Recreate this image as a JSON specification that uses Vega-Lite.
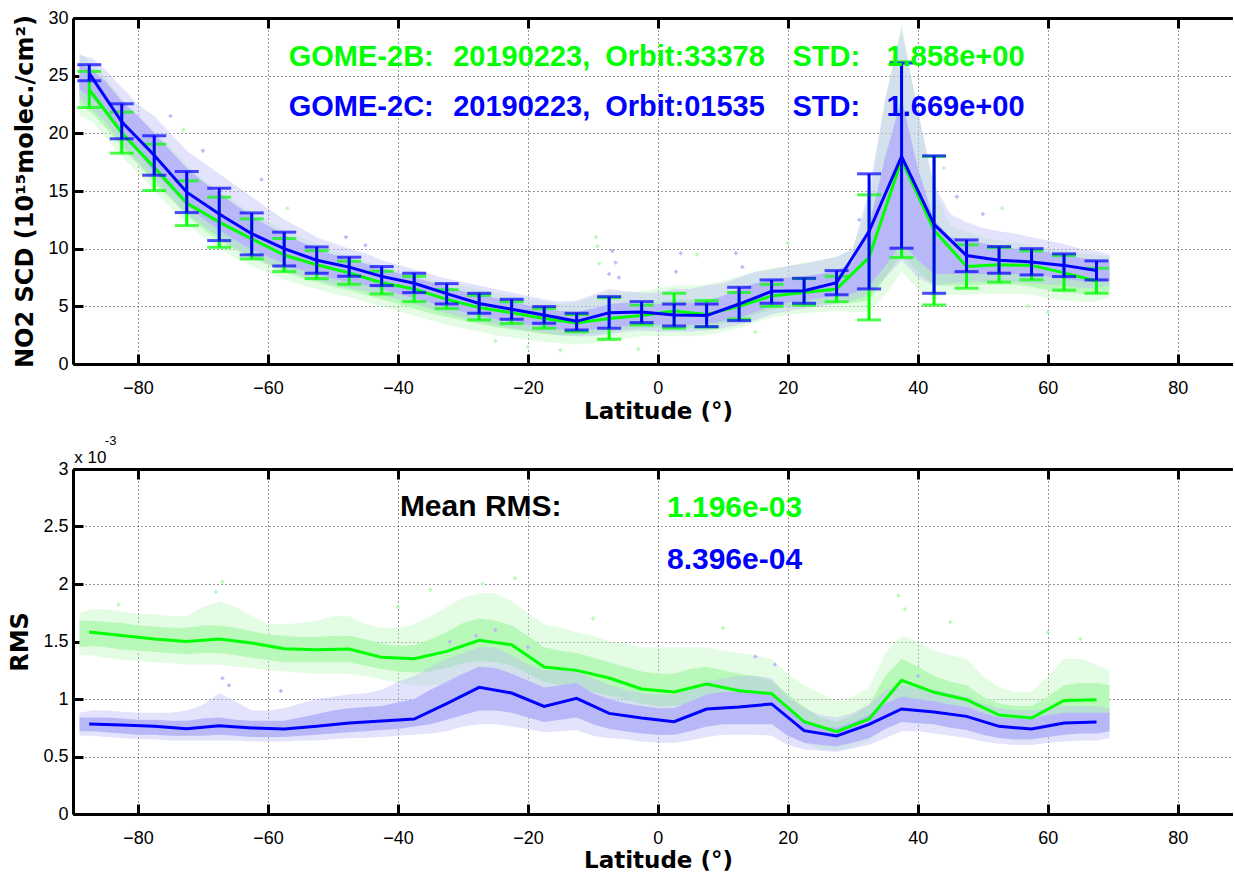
{
  "$schema": "https://vega.github.io/schema/vega-lite/v6.json",
  "background": "white",
  "padding": {"left": 8, "top": 9, "right": 0, "bottom": 0},
  "spacing": 105,
  "bounds": "flush",
  "datasets": {
    "top_cloud": [
      {"sat":"C","lat":-89,"lo":23.8,"hi":26.0,"lo2":23.0,"hi2":26.8},
      {"sat":"C","lat":-87,"lo":23.0,"hi":25.5,"lo2":22.0,"hi2":26.5},
      {"sat":"C","lat":-85,"lo":21.8,"hi":24.5,"lo2":21.0,"hi2":25.5},
      {"sat":"C","lat":-82.5,"lo":19.8,"hi":22.8,"lo2":19.0,"hi2":24.0},
      {"sat":"C","lat":-80,"lo":18.3,"hi":21.5,"lo2":17.5,"hi2":22.5},
      {"sat":"C","lat":-77.5,"lo":16.6,"hi":20.0,"lo2":16.0,"hi2":21.5},
      {"sat":"C","lat":-75,"lo":15.2,"hi":18.5,"lo2":14.5,"hi2":20.0},
      {"sat":"C","lat":-72.5,"lo":13.8,"hi":17.0,"lo2":13.0,"hi2":18.5},
      {"sat":"C","lat":-70,"lo":12.6,"hi":15.8,"lo2":12.0,"hi2":17.5},
      {"sat":"C","lat":-67.5,"lo":11.6,"hi":14.8,"lo2":11.0,"hi2":16.5},
      {"sat":"C","lat":-65,"lo":10.7,"hi":13.8,"lo2":10.0,"hi2":15.5},
      {"sat":"C","lat":-62.5,"lo":9.9,"hi":12.8,"lo2":9.3,"hi2":14.5},
      {"sat":"C","lat":-60,"lo":9.3,"hi":12.0,"lo2":8.7,"hi2":13.5},
      {"sat":"C","lat":-57.5,"lo":8.7,"hi":11.2,"lo2":8.2,"hi2":12.5},
      {"sat":"C","lat":-55,"lo":8.2,"hi":10.6,"lo2":7.7,"hi2":11.8},
      {"sat":"C","lat":-52.5,"lo":7.8,"hi":10.0,"lo2":7.3,"hi2":11.0},
      {"sat":"C","lat":-50,"lo":7.4,"hi":9.5,"lo2":6.9,"hi2":10.5},
      {"sat":"C","lat":-47.5,"lo":7.1,"hi":9.1,"lo2":6.6,"hi2":10.0},
      {"sat":"C","lat":-45,"lo":6.8,"hi":8.7,"lo2":6.3,"hi2":9.6},
      {"sat":"C","lat":-42.5,"lo":6.5,"hi":8.3,"lo2":6.0,"hi2":9.0},
      {"sat":"C","lat":-40,"lo":6.1,"hi":7.9,"lo2":5.6,"hi2":8.6},
      {"sat":"C","lat":-37.5,"lo":5.7,"hi":7.5,"lo2":5.2,"hi2":8.2},
      {"sat":"C","lat":-35,"lo":5.3,"hi":7.1,"lo2":4.8,"hi2":7.8},
      {"sat":"C","lat":-32.5,"lo":4.9,"hi":6.7,"lo2":4.4,"hi2":7.4},
      {"sat":"C","lat":-30,"lo":4.5,"hi":6.3,"lo2":4.0,"hi2":7.1},
      {"sat":"C","lat":-27.5,"lo":4.2,"hi":6.0,"lo2":3.7,"hi2":6.8},
      {"sat":"C","lat":-25,"lo":3.9,"hi":5.7,"lo2":3.4,"hi2":6.5},
      {"sat":"C","lat":-22.5,"lo":3.6,"hi":5.4,"lo2":3.1,"hi2":6.2},
      {"sat":"C","lat":-20,"lo":3.4,"hi":5.1,"lo2":2.9,"hi2":5.9},
      {"sat":"C","lat":-17.5,"lo":3.2,"hi":4.8,"lo2":2.7,"hi2":5.6},
      {"sat":"C","lat":-15,"lo":3.0,"hi":4.6,"lo2":2.5,"hi2":5.4},
      {"sat":"C","lat":-12.5,"lo":2.9,"hi":4.5,"lo2":2.4,"hi2":5.5},
      {"sat":"C","lat":-10,"lo":3.0,"hi":4.8,"lo2":2.4,"hi2":6.0},
      {"sat":"C","lat":-7.5,"lo":3.2,"hi":5.2,"lo2":2.6,"hi2":6.5},
      {"sat":"C","lat":-5,"lo":3.3,"hi":5.3,"lo2":2.8,"hi2":6.3},
      {"sat":"C","lat":-2.5,"lo":3.4,"hi":5.2,"lo2":2.9,"hi2":6.2},
      {"sat":"C","lat":0,"lo":3.4,"hi":5.2,"lo2":2.8,"hi2":6.2},
      {"sat":"C","lat":2.5,"lo":3.4,"hi":5.2,"lo2":2.8,"hi2":6.5},
      {"sat":"C","lat":5,"lo":3.4,"hi":5.3,"lo2":2.8,"hi2":6.5},
      {"sat":"C","lat":7.5,"lo":3.5,"hi":5.4,"lo2":2.9,"hi2":6.8},
      {"sat":"C","lat":10,"lo":3.7,"hi":5.9,"lo2":3.1,"hi2":7.0},
      {"sat":"C","lat":12.5,"lo":4.0,"hi":6.5,"lo2":3.4,"hi2":7.5},
      {"sat":"C","lat":15,"lo":4.5,"hi":7.0,"lo2":3.8,"hi2":8.0},
      {"sat":"C","lat":17.5,"lo":5.0,"hi":7.3,"lo2":4.3,"hi2":8.2},
      {"sat":"C","lat":20,"lo":5.3,"hi":7.5,"lo2":4.6,"hi2":8.5},
      {"sat":"C","lat":22.5,"lo":5.5,"hi":7.6,"lo2":4.8,"hi2":8.7},
      {"sat":"C","lat":25,"lo":5.7,"hi":7.8,"lo2":5.0,"hi2":9.0},
      {"sat":"C","lat":27.5,"lo":5.9,"hi":8.1,"lo2":5.2,"hi2":9.3},
      {"sat":"C","lat":30,"lo":6.1,"hi":8.8,"lo2":5.5,"hi2":10.0},
      {"sat":"C","lat":32.5,"lo":6.8,"hi":12.0,"lo2":6.0,"hi2":15.0},
      {"sat":"C","lat":35,"lo":8.5,"hi":18.0,"lo2":7.5,"hi2":23.0},
      {"sat":"C","lat":37.5,"lo":10.5,"hi":23.0,"lo2":9.0,"hi2":29.0},
      {"sat":"C","lat":40,"lo":9.0,"hi":17.0,"lo2":7.5,"hi2":22.0},
      {"sat":"C","lat":42.5,"lo":7.8,"hi":12.5,"lo2":6.8,"hi2":15.5},
      {"sat":"C","lat":45,"lo":7.8,"hi":11.0,"lo2":7.0,"hi2":13.0},
      {"sat":"C","lat":47.5,"lo":7.8,"hi":10.8,"lo2":7.1,"hi2":12.3},
      {"sat":"C","lat":50,"lo":7.8,"hi":10.5,"lo2":7.1,"hi2":11.8},
      {"sat":"C","lat":52.5,"lo":7.8,"hi":10.2,"lo2":7.1,"hi2":11.5},
      {"sat":"C","lat":55,"lo":7.8,"hi":10.0,"lo2":7.1,"hi2":11.3},
      {"sat":"C","lat":57.5,"lo":7.7,"hi":9.9,"lo2":7.0,"hi2":11.0},
      {"sat":"C","lat":60,"lo":7.6,"hi":9.7,"lo2":6.9,"hi2":10.7},
      {"sat":"C","lat":62.5,"lo":7.4,"hi":9.5,"lo2":6.8,"hi2":10.4},
      {"sat":"C","lat":65,"lo":7.2,"hi":9.2,"lo2":6.6,"hi2":10.0},
      {"sat":"C","lat":67.5,"lo":7.1,"hi":9.0,"lo2":6.6,"hi2":9.8},
      {"sat":"C","lat":69.5,"lo":7.2,"hi":8.8,"lo2":6.8,"hi2":9.5},
      {"sat":"B","lat":-89,"lo":22.5,"hi":25.5,"lo2":21.5,"hi2":27.0},
      {"sat":"B","lat":-87,"lo":21.7,"hi":24.8,"lo2":21.0,"hi2":26.0},
      {"sat":"B","lat":-85,"lo":20.5,"hi":23.5,"lo2":19.7,"hi2":24.8},
      {"sat":"B","lat":-82.5,"lo":18.8,"hi":21.8,"lo2":18.0,"hi2":23.0},
      {"sat":"B","lat":-80,"lo":17.3,"hi":20.3,"lo2":16.6,"hi2":21.5},
      {"sat":"B","lat":-77.5,"lo":15.7,"hi":18.8,"lo2":15.0,"hi2":20.2},
      {"sat":"B","lat":-75,"lo":14.3,"hi":17.3,"lo2":13.6,"hi2":18.8},
      {"sat":"B","lat":-72.5,"lo":12.9,"hi":15.8,"lo2":12.2,"hi2":17.3},
      {"sat":"B","lat":-70,"lo":11.7,"hi":14.5,"lo2":11.0,"hi2":16.0},
      {"sat":"B","lat":-67.5,"lo":10.7,"hi":13.5,"lo2":10.0,"hi2":15.0},
      {"sat":"B","lat":-65,"lo":9.9,"hi":12.6,"lo2":9.2,"hi2":14.0},
      {"sat":"B","lat":-62.5,"lo":9.2,"hi":11.8,"lo2":8.5,"hi2":13.2},
      {"sat":"B","lat":-60,"lo":8.6,"hi":11.1,"lo2":7.9,"hi2":12.4},
      {"sat":"B","lat":-57.5,"lo":8.0,"hi":10.4,"lo2":7.3,"hi2":11.6},
      {"sat":"B","lat":-55,"lo":7.5,"hi":9.8,"lo2":6.9,"hi2":11.0},
      {"sat":"B","lat":-52.5,"lo":7.1,"hi":9.3,"lo2":6.5,"hi2":10.4},
      {"sat":"B","lat":-50,"lo":6.7,"hi":8.8,"lo2":6.1,"hi2":9.8},
      {"sat":"B","lat":-47.5,"lo":6.4,"hi":8.4,"lo2":5.8,"hi2":9.3},
      {"sat":"B","lat":-45,"lo":6.0,"hi":8.0,"lo2":5.4,"hi2":8.9},
      {"sat":"B","lat":-42.5,"lo":5.6,"hi":7.6,"lo2":5.0,"hi2":8.5},
      {"sat":"B","lat":-40,"lo":5.2,"hi":7.2,"lo2":4.6,"hi2":8.0},
      {"sat":"B","lat":-37.5,"lo":4.8,"hi":6.8,"lo2":4.2,"hi2":7.6},
      {"sat":"B","lat":-35,"lo":4.4,"hi":6.4,"lo2":3.8,"hi2":7.3},
      {"sat":"B","lat":-32.5,"lo":4.1,"hi":6.0,"lo2":3.4,"hi2":7.0},
      {"sat":"B","lat":-30,"lo":3.8,"hi":5.7,"lo2":3.1,"hi2":6.8},
      {"sat":"B","lat":-27.5,"lo":3.5,"hi":5.4,"lo2":2.8,"hi2":6.5},
      {"sat":"B","lat":-25,"lo":3.2,"hi":5.1,"lo2":2.5,"hi2":6.2},
      {"sat":"B","lat":-22.5,"lo":3.0,"hi":4.8,"lo2":2.3,"hi2":5.9},
      {"sat":"B","lat":-20,"lo":2.8,"hi":4.6,"lo2":2.1,"hi2":5.7},
      {"sat":"B","lat":-17.5,"lo":2.6,"hi":4.4,"lo2":1.9,"hi2":5.4},
      {"sat":"B","lat":-15,"lo":2.5,"hi":4.2,"lo2":1.8,"hi2":5.2},
      {"sat":"B","lat":-12.5,"lo":2.5,"hi":4.2,"lo2":1.7,"hi2":5.3},
      {"sat":"B","lat":-10,"lo":2.6,"hi":4.5,"lo2":1.8,"hi2":5.8},
      {"sat":"B","lat":-7.5,"lo":2.8,"hi":4.9,"lo2":2.0,"hi2":6.2},
      {"sat":"B","lat":-5,"lo":3.0,"hi":5.1,"lo2":2.2,"hi2":6.2},
      {"sat":"B","lat":-2.5,"lo":3.1,"hi":5.2,"lo2":2.4,"hi2":6.3},
      {"sat":"B","lat":0,"lo":3.1,"hi":5.4,"lo2":2.4,"hi2":6.6},
      {"sat":"B","lat":2.5,"lo":3.1,"hi":5.6,"lo2":2.4,"hi2":6.8},
      {"sat":"B","lat":5,"lo":3.1,"hi":5.6,"lo2":2.4,"hi2":6.8},
      {"sat":"B","lat":7.5,"lo":3.2,"hi":5.6,"lo2":2.5,"hi2":6.9},
      {"sat":"B","lat":10,"lo":3.5,"hi":5.9,"lo2":2.8,"hi2":7.2},
      {"sat":"B","lat":12.5,"lo":3.9,"hi":6.4,"lo2":3.1,"hi2":7.6},
      {"sat":"B","lat":15,"lo":4.3,"hi":6.9,"lo2":3.6,"hi2":8.0},
      {"sat":"B","lat":17.5,"lo":4.7,"hi":7.2,"lo2":4.0,"hi2":8.3},
      {"sat":"B","lat":20,"lo":5.0,"hi":7.4,"lo2":4.3,"hi2":8.5},
      {"sat":"B","lat":22.5,"lo":5.1,"hi":7.5,"lo2":4.4,"hi2":8.8},
      {"sat":"B","lat":25,"lo":5.2,"hi":7.7,"lo2":4.5,"hi2":9.0},
      {"sat":"B","lat":27.5,"lo":5.3,"hi":7.9,"lo2":4.6,"hi2":9.3},
      {"sat":"B","lat":30,"lo":5.3,"hi":8.5,"lo2":4.5,"hi2":10.0},
      {"sat":"B","lat":32.5,"lo":5.5,"hi":11.0,"lo2":4.5,"hi2":14.0},
      {"sat":"B","lat":35,"lo":7.5,"hi":17.0,"lo2":6.0,"hi2":23.0},
      {"sat":"B","lat":37.5,"lo":9.5,"hi":23.0,"lo2":8.0,"hi2":29.5},
      {"sat":"B","lat":40,"lo":8.0,"hi":16.5,"lo2":6.5,"hi2":22.0},
      {"sat":"B","lat":42.5,"lo":6.8,"hi":11.5,"lo2":5.8,"hi2":15.0},
      {"sat":"B","lat":45,"lo":6.8,"hi":10.0,"lo2":6.0,"hi2":12.0},
      {"sat":"B","lat":47.5,"lo":6.8,"hi":9.8,"lo2":6.0,"hi2":11.5},
      {"sat":"B","lat":50,"lo":6.9,"hi":9.6,"lo2":6.1,"hi2":11.0},
      {"sat":"B","lat":52.5,"lo":6.9,"hi":9.4,"lo2":6.1,"hi2":10.7},
      {"sat":"B","lat":55,"lo":6.9,"hi":9.3,"lo2":6.1,"hi2":10.5},
      {"sat":"B","lat":57.5,"lo":6.7,"hi":9.1,"lo2":6.0,"hi2":10.3},
      {"sat":"B","lat":60,"lo":6.4,"hi":8.9,"lo2":5.7,"hi2":10.0},
      {"sat":"B","lat":62.5,"lo":6.2,"hi":8.7,"lo2":5.5,"hi2":9.8},
      {"sat":"B","lat":65,"lo":6.1,"hi":8.5,"lo2":5.4,"hi2":9.6},
      {"sat":"B","lat":67.5,"lo":6.1,"hi":8.4,"lo2":5.4,"hi2":9.5},
      {"sat":"B","lat":69.5,"lo":6.3,"hi":8.3,"lo2":5.8,"hi2":9.3}
    ],
    "top_out": [
      {"sat":"C","lat":-7,"v":9.8},{"sat":"C","lat":-6.5,"v":8.8},{"sat":"C","lat":-6,"v":7.5},{"sat":"C","lat":-7.5,"v":7.8},
      {"sat":"C","lat":3.5,"v":9.6},{"sat":"C","lat":2.8,"v":8.0},{"sat":"C","lat":12,"v":9.6},{"sat":"C","lat":13,"v":8.4},
      {"sat":"C","lat":-61,"v":16},{"sat":"C","lat":-75,"v":21.5},{"sat":"C","lat":-70,"v":18.5},{"sat":"C","lat":-48,"v":11},
      {"sat":"C","lat":46,"v":14.5},{"sat":"C","lat":50,"v":13.0},{"sat":"C","lat":-45,"v":10.3},{"sat":"C","lat":31,"v":12.5},
      {"sat":"B","lat":-9.5,"v":11.0},{"sat":"B","lat":-9.3,"v":10.2},{"sat":"B","lat":-9,"v":8.7},{"sat":"B","lat":6,"v":9.5},
      {"sat":"B","lat":20,"v":10.5},{"sat":"B","lat":-73,"v":20.3},{"sat":"B","lat":-57,"v":13.5},{"sat":"B","lat":-25,"v":2.0},
      {"sat":"B","lat":-20,"v":1.5},{"sat":"B","lat":-15,"v":1.2},{"sat":"B","lat":-3,"v":1.3},{"sat":"B","lat":15,"v":2.8},
      {"sat":"B","lat":57,"v":5.0},{"sat":"B","lat":60,"v":4.5},{"sat":"B","lat":44,"v":17},{"sat":"B","lat":53,"v":13.5}
    ],
    "top_mean": [
      {"sat":"B","lat":-87.5,"mean":23.8,"lo":22.24,"hi":25.37},
      {"sat":"B","lat":-82.5,"mean":20.05,"lo":18.28,"hi":21.84},
      {"sat":"B","lat":-77.5,"mean":17.05,"lo":15.04,"hi":19.06},
      {"sat":"B","lat":-72.5,"mean":13.95,"lo":12.0,"hi":15.88},
      {"sat":"B","lat":-67.5,"mean":12.3,"lo":10.12,"hi":14.46},
      {"sat":"B","lat":-62.5,"mean":10.85,"lo":9.11,"hi":12.58},
      {"sat":"B","lat":-57.5,"mean":9.45,"lo":8.01,"hi":10.88},
      {"sat":"B","lat":-52.5,"mean":8.6,"lo":7.4,"hi":9.83},
      {"sat":"B","lat":-47.5,"mean":7.9,"lo":6.91,"hi":8.91},
      {"sat":"B","lat":-42.5,"mean":7.05,"lo":6.07,"hi":8.04},
      {"sat":"B","lat":-37.5,"mean":6.5,"lo":5.41,"hi":7.6},
      {"sat":"B","lat":-32.5,"mean":5.6,"lo":4.8,"hi":6.45},
      {"sat":"B","lat":-27.5,"mean":4.9,"lo":3.82,"hi":5.95},
      {"sat":"B","lat":-22.5,"mean":4.45,"lo":3.5,"hi":5.4},
      {"sat":"B","lat":-17.5,"mean":3.95,"lo":3.1,"hi":4.8},
      {"sat":"B","lat":-12.5,"mean":3.55,"lo":2.8,"hi":4.3},
      {"sat":"B","lat":-7.5,"mean":3.95,"lo":2.14,"hi":5.75},
      {"sat":"B","lat":-2.5,"mean":4.2,"lo":3.4,"hi":5.1},
      {"sat":"B","lat":2.5,"mean":4.6,"lo":3.1,"hi":6.13},
      {"sat":"B","lat":7.5,"mean":4.3,"lo":3.2,"hi":5.5},
      {"sat":"B","lat":12.5,"mean":5.0,"lo":3.9,"hi":6.2},
      {"sat":"B","lat":17.5,"mean":5.9,"lo":5.0,"hi":6.9},
      {"sat":"B","lat":22.5,"mean":6.2,"lo":5.1,"hi":7.4},
      {"sat":"B","lat":27.5,"mean":6.5,"lo":5.4,"hi":7.6},
      {"sat":"B","lat":32.5,"mean":9.25,"lo":3.82,"hi":14.67},
      {"sat":"B","lat":37.5,"mean":17.7,"lo":9.23,"hi":26.2},
      {"sat":"B","lat":42.5,"mean":11.6,"lo":5.12,"hi":18.0},
      {"sat":"B","lat":47.5,"mean":8.45,"lo":6.57,"hi":10.33},
      {"sat":"B","lat":52.5,"mean":8.6,"lo":7.1,"hi":10.1},
      {"sat":"B","lat":57.5,"mean":8.55,"lo":7.3,"hi":9.8},
      {"sat":"B","lat":62.5,"mean":7.9,"lo":6.4,"hi":9.4},
      {"sat":"B","lat":67.5,"mean":7.2,"lo":6.13,"hi":8.3},
      {"sat":"C","lat":-87.5,"mean":25.2,"lo":24.56,"hi":25.95},
      {"sat":"C","lat":-82.5,"mean":21.0,"lo":19.53,"hi":22.56},
      {"sat":"C","lat":-77.5,"mean":18.1,"lo":16.37,"hi":19.79},
      {"sat":"C","lat":-72.5,"mean":14.9,"lo":13.13,"hi":16.69},
      {"sat":"C","lat":-67.5,"mean":13.0,"lo":10.7,"hi":15.24},
      {"sat":"C","lat":-62.5,"mean":11.3,"lo":9.46,"hi":13.1},
      {"sat":"C","lat":-57.5,"mean":10.0,"lo":8.5,"hi":11.43},
      {"sat":"C","lat":-52.5,"mean":9.0,"lo":7.87,"hi":10.15},
      {"sat":"C","lat":-47.5,"mean":8.4,"lo":7.61,"hi":9.26},
      {"sat":"C","lat":-42.5,"mean":7.6,"lo":6.8,"hi":8.45},
      {"sat":"C","lat":-37.5,"mean":7.0,"lo":6.19,"hi":7.87},
      {"sat":"C","lat":-32.5,"mean":6.1,"lo":5.21,"hi":6.97},
      {"sat":"C","lat":-27.5,"mean":5.25,"lo":4.4,"hi":6.13},
      {"sat":"C","lat":-22.5,"mean":4.75,"lo":3.88,"hi":5.61},
      {"sat":"C","lat":-17.5,"mean":4.25,"lo":3.53,"hi":4.98},
      {"sat":"C","lat":-12.5,"mean":3.7,"lo":2.95,"hi":4.4},
      {"sat":"C","lat":-7.5,"mean":4.45,"lo":3.1,"hi":5.84},
      {"sat":"C","lat":-2.5,"mean":4.5,"lo":3.59,"hi":5.41},
      {"sat":"C","lat":2.5,"mean":4.25,"lo":3.3,"hi":5.2},
      {"sat":"C","lat":7.5,"mean":4.2,"lo":3.24,"hi":5.2},
      {"sat":"C","lat":12.5,"mean":5.2,"lo":3.76,"hi":6.65},
      {"sat":"C","lat":17.5,"mean":6.3,"lo":5.27,"hi":7.29},
      {"sat":"C","lat":22.5,"mean":6.35,"lo":5.27,"hi":7.43},
      {"sat":"C","lat":27.5,"mean":7.05,"lo":6.0,"hi":8.1},
      {"sat":"C","lat":32.5,"mean":11.5,"lo":6.51,"hi":16.49},
      {"sat":"C","lat":37.5,"mean":18.0,"lo":10.04,"hi":26.09},
      {"sat":"C","lat":42.5,"mean":12.1,"lo":6.13,"hi":18.05},
      {"sat":"C","lat":47.5,"mean":9.4,"lo":8.01,"hi":10.76},
      {"sat":"C","lat":52.5,"mean":9.0,"lo":7.87,"hi":10.18},
      {"sat":"C","lat":57.5,"mean":8.85,"lo":7.72,"hi":10.0},
      {"sat":"C","lat":62.5,"mean":8.55,"lo":7.58,"hi":9.55},
      {"sat":"C","lat":67.5,"mean":8.1,"lo":7.29,"hi":8.94}
    ],
    "top_text": [
      {"sat":"B","lat":-56.8,"v":26.58,"label":"GOME-2B:"},
      {"sat":"B","lat":-31.5,"v":26.58,"label":"20190223,"},
      {"sat":"B","lat":-8.1,"v":26.58,"label":"Orbit:33378"},
      {"sat":"B","lat":20.7,"v":26.58,"label":"STD:"},
      {"sat":"B","lat":35.2,"v":26.58,"label":"1.858e+00"},
      {"sat":"C","lat":-56.8,"v":22.25,"label":"GOME-2C:"},
      {"sat":"C","lat":-31.5,"v":22.25,"label":"20190223,"},
      {"sat":"C","lat":-8.1,"v":22.25,"label":"Orbit:01535"},
      {"sat":"C","lat":20.7,"v":22.25,"label":"STD:"},
      {"sat":"C","lat":35.2,"v":22.25,"label":"1.669e+00"}
    ],
    "bot_cloud": [
      {"sat":"B","lat":-89,"lo":1.45,"hi":1.68,"lo2":1.38,"hi2":1.75},
      {"sat":"B","lat":-87,"lo":1.46,"hi":1.68,"lo2":1.38,"hi2":1.78},
      {"sat":"B","lat":-85,"lo":1.45,"hi":1.67,"lo2":1.36,"hi2":1.78},
      {"sat":"B","lat":-82.5,"lo":1.43,"hi":1.66,"lo2":1.34,"hi2":1.76},
      {"sat":"B","lat":-80,"lo":1.42,"hi":1.64,"lo2":1.33,"hi2":1.74},
      {"sat":"B","lat":-77.5,"lo":1.41,"hi":1.63,"lo2":1.32,"hi2":1.74},
      {"sat":"B","lat":-75,"lo":1.40,"hi":1.62,"lo2":1.31,"hi2":1.72},
      {"sat":"B","lat":-72.5,"lo":1.39,"hi":1.62,"lo2":1.30,"hi2":1.72},
      {"sat":"B","lat":-70,"lo":1.40,"hi":1.64,"lo2":1.30,"hi2":1.80},
      {"sat":"B","lat":-67.5,"lo":1.40,"hi":1.64,"lo2":1.30,"hi2":1.85},
      {"sat":"B","lat":-65,"lo":1.38,"hi":1.62,"lo2":1.28,"hi2":1.80},
      {"sat":"B","lat":-62.5,"lo":1.36,"hi":1.59,"lo2":1.27,"hi2":1.72},
      {"sat":"B","lat":-60,"lo":1.34,"hi":1.56,"lo2":1.25,"hi2":1.65},
      {"sat":"B","lat":-57.5,"lo":1.32,"hi":1.55,"lo2":1.24,"hi2":1.65},
      {"sat":"B","lat":-55,"lo":1.32,"hi":1.54,"lo2":1.23,"hi2":1.66},
      {"sat":"B","lat":-52.5,"lo":1.32,"hi":1.54,"lo2":1.22,"hi2":1.68},
      {"sat":"B","lat":-50,"lo":1.32,"hi":1.55,"lo2":1.22,"hi2":1.72},
      {"sat":"B","lat":-47.5,"lo":1.32,"hi":1.55,"lo2":1.22,"hi2":1.72},
      {"sat":"B","lat":-45,"lo":1.29,"hi":1.52,"lo2":1.20,"hi2":1.65},
      {"sat":"B","lat":-42.5,"lo":1.26,"hi":1.48,"lo2":1.17,"hi2":1.62},
      {"sat":"B","lat":-40,"lo":1.24,"hi":1.46,"lo2":1.14,"hi2":1.62},
      {"sat":"B","lat":-37.5,"lo":1.23,"hi":1.47,"lo2":1.12,"hi2":1.65},
      {"sat":"B","lat":-35,"lo":1.24,"hi":1.52,"lo2":1.12,"hi2":1.72},
      {"sat":"B","lat":-32.5,"lo":1.27,"hi":1.58,"lo2":1.14,"hi2":1.80},
      {"sat":"B","lat":-30,"lo":1.31,"hi":1.66,"lo2":1.18,"hi2":1.88},
      {"sat":"B","lat":-27.5,"lo":1.33,"hi":1.70,"lo2":1.20,"hi2":1.92},
      {"sat":"B","lat":-25,"lo":1.32,"hi":1.68,"lo2":1.20,"hi2":1.92},
      {"sat":"B","lat":-22.5,"lo":1.29,"hi":1.64,"lo2":1.16,"hi2":1.85},
      {"sat":"B","lat":-20,"lo":1.22,"hi":1.55,"lo2":1.10,"hi2":1.75},
      {"sat":"B","lat":-17.5,"lo":1.15,"hi":1.45,"lo2":1.04,"hi2":1.65},
      {"sat":"B","lat":-15,"lo":1.12,"hi":1.42,"lo2":1.00,"hi2":1.62},
      {"sat":"B","lat":-12.5,"lo":1.10,"hi":1.40,"lo2":0.98,"hi2":1.58},
      {"sat":"B","lat":-10,"lo":1.06,"hi":1.36,"lo2":0.95,"hi2":1.55},
      {"sat":"B","lat":-7.5,"lo":1.03,"hi":1.32,"lo2":0.92,"hi2":1.50},
      {"sat":"B","lat":-5,"lo":1.00,"hi":1.28,"lo2":0.90,"hi2":1.48},
      {"sat":"B","lat":-2.5,"lo":0.96,"hi":1.24,"lo2":0.86,"hi2":1.45},
      {"sat":"B","lat":0,"lo":0.94,"hi":1.22,"lo2":0.84,"hi2":1.45},
      {"sat":"B","lat":2.5,"lo":0.94,"hi":1.22,"lo2":0.84,"hi2":1.45},
      {"sat":"B","lat":5,"lo":0.96,"hi":1.26,"lo2":0.86,"hi2":1.45},
      {"sat":"B","lat":7.5,"lo":0.98,"hi":1.28,"lo2":0.88,"hi2":1.45},
      {"sat":"B","lat":10,"lo":0.97,"hi":1.25,"lo2":0.88,"hi2":1.42},
      {"sat":"B","lat":12.5,"lo":0.95,"hi":1.22,"lo2":0.86,"hi2":1.40},
      {"sat":"B","lat":15,"lo":0.93,"hi":1.20,"lo2":0.84,"hi2":1.38},
      {"sat":"B","lat":17.5,"lo":0.90,"hi":1.16,"lo2":0.80,"hi2":1.35},
      {"sat":"B","lat":20,"lo":0.80,"hi":1.04,"lo2":0.70,"hi2":1.22},
      {"sat":"B","lat":22.5,"lo":0.70,"hi":0.93,"lo2":0.62,"hi2":1.12},
      {"sat":"B","lat":25,"lo":0.64,"hi":0.84,"lo2":0.56,"hi2":1.05},
      {"sat":"B","lat":27.5,"lo":0.62,"hi":0.80,"lo2":0.55,"hi2":0.98},
      {"sat":"B","lat":30,"lo":0.66,"hi":0.86,"lo2":0.58,"hi2":1.02},
      {"sat":"B","lat":32.5,"lo":0.72,"hi":0.95,"lo2":0.64,"hi2":1.10},
      {"sat":"B","lat":35,"lo":0.85,"hi":1.20,"lo2":0.75,"hi2":1.40},
      {"sat":"B","lat":37.5,"lo":0.95,"hi":1.35,"lo2":0.82,"hi2":1.55},
      {"sat":"B","lat":40,"lo":0.92,"hi":1.28,"lo2":0.80,"hi2":1.50},
      {"sat":"B","lat":42.5,"lo":0.90,"hi":1.20,"lo2":0.78,"hi2":1.42},
      {"sat":"B","lat":45,"lo":0.86,"hi":1.15,"lo2":0.76,"hi2":1.38},
      {"sat":"B","lat":47.5,"lo":0.84,"hi":1.12,"lo2":0.74,"hi2":1.35},
      {"sat":"B","lat":50,"lo":0.78,"hi":1.02,"lo2":0.70,"hi2":1.20},
      {"sat":"B","lat":52.5,"lo":0.74,"hi":0.96,"lo2":0.66,"hi2":1.10},
      {"sat":"B","lat":55,"lo":0.72,"hi":0.94,"lo2":0.64,"hi2":1.06},
      {"sat":"B","lat":57.5,"lo":0.72,"hi":0.94,"lo2":0.64,"hi2":1.06},
      {"sat":"B","lat":60,"lo":0.76,"hi":1.02,"lo2":0.68,"hi2":1.20},
      {"sat":"B","lat":62.5,"lo":0.82,"hi":1.12,"lo2":0.72,"hi2":1.35},
      {"sat":"B","lat":65,"lo":0.84,"hi":1.14,"lo2":0.74,"hi2":1.35},
      {"sat":"B","lat":67.5,"lo":0.84,"hi":1.14,"lo2":0.74,"hi2":1.30},
      {"sat":"B","lat":69.5,"lo":0.86,"hi":1.12,"lo2":0.78,"hi2":1.25},
      {"sat":"C","lat":-89,"lo":0.72,"hi":0.84,"lo2":0.68,"hi2":0.88},
      {"sat":"C","lat":-87,"lo":0.72,"hi":0.84,"lo2":0.68,"hi2":0.90},
      {"sat":"C","lat":-85,"lo":0.71,"hi":0.84,"lo2":0.67,"hi2":0.90},
      {"sat":"C","lat":-82.5,"lo":0.70,"hi":0.83,"lo2":0.66,"hi2":0.89},
      {"sat":"C","lat":-80,"lo":0.69,"hi":0.82,"lo2":0.65,"hi2":0.88},
      {"sat":"C","lat":-77.5,"lo":0.69,"hi":0.82,"lo2":0.65,"hi2":0.88},
      {"sat":"C","lat":-75,"lo":0.68,"hi":0.81,"lo2":0.64,"hi2":0.88},
      {"sat":"C","lat":-72.5,"lo":0.68,"hi":0.81,"lo2":0.64,"hi2":0.90},
      {"sat":"C","lat":-70,"lo":0.68,"hi":0.83,"lo2":0.64,"hi2":0.95},
      {"sat":"C","lat":-67.5,"lo":0.69,"hi":0.84,"lo2":0.64,"hi2":1.05},
      {"sat":"C","lat":-65,"lo":0.68,"hi":0.82,"lo2":0.64,"hi2":0.98},
      {"sat":"C","lat":-62.5,"lo":0.67,"hi":0.81,"lo2":0.63,"hi2":0.90},
      {"sat":"C","lat":-60,"lo":0.67,"hi":0.81,"lo2":0.63,"hi2":0.90},
      {"sat":"C","lat":-57.5,"lo":0.67,"hi":0.81,"lo2":0.63,"hi2":0.92},
      {"sat":"C","lat":-55,"lo":0.68,"hi":0.84,"lo2":0.64,"hi2":0.96},
      {"sat":"C","lat":-52.5,"lo":0.69,"hi":0.87,"lo2":0.64,"hi2":1.00},
      {"sat":"C","lat":-50,"lo":0.70,"hi":0.90,"lo2":0.65,"hi2":1.02},
      {"sat":"C","lat":-47.5,"lo":0.71,"hi":0.92,"lo2":0.66,"hi2":1.04},
      {"sat":"C","lat":-45,"lo":0.72,"hi":0.93,"lo2":0.66,"hi2":1.05},
      {"sat":"C","lat":-42.5,"lo":0.73,"hi":0.94,"lo2":0.67,"hi2":1.08},
      {"sat":"C","lat":-40,"lo":0.74,"hi":0.97,"lo2":0.68,"hi2":1.15},
      {"sat":"C","lat":-37.5,"lo":0.76,"hi":1.00,"lo2":0.69,"hi2":1.20},
      {"sat":"C","lat":-35,"lo":0.78,"hi":1.08,"lo2":0.70,"hi2":1.28},
      {"sat":"C","lat":-32.5,"lo":0.82,"hi":1.15,"lo2":0.72,"hi2":1.35},
      {"sat":"C","lat":-30,"lo":0.86,"hi":1.22,"lo2":0.76,"hi2":1.40},
      {"sat":"C","lat":-27.5,"lo":0.90,"hi":1.28,"lo2":0.78,"hi2":1.45},
      {"sat":"C","lat":-25,"lo":0.90,"hi":1.27,"lo2":0.78,"hi2":1.45},
      {"sat":"C","lat":-22.5,"lo":0.88,"hi":1.22,"lo2":0.76,"hi2":1.38},
      {"sat":"C","lat":-20,"lo":0.84,"hi":1.16,"lo2":0.74,"hi2":1.30},
      {"sat":"C","lat":-17.5,"lo":0.80,"hi":1.10,"lo2":0.71,"hi2":1.25},
      {"sat":"C","lat":-15,"lo":0.82,"hi":1.12,"lo2":0.72,"hi2":1.25},
      {"sat":"C","lat":-12.5,"lo":0.84,"hi":1.14,"lo2":0.73,"hi2":1.25},
      {"sat":"C","lat":-10,"lo":0.78,"hi":1.05,"lo2":0.68,"hi2":1.18},
      {"sat":"C","lat":-7.5,"lo":0.74,"hi":1.00,"lo2":0.66,"hi2":1.12},
      {"sat":"C","lat":-5,"lo":0.72,"hi":0.96,"lo2":0.65,"hi2":1.08},
      {"sat":"C","lat":-2.5,"lo":0.70,"hi":0.94,"lo2":0.63,"hi2":1.05},
      {"sat":"C","lat":0,"lo":0.69,"hi":0.92,"lo2":0.62,"hi2":1.04},
      {"sat":"C","lat":2.5,"lo":0.69,"hi":0.92,"lo2":0.62,"hi2":1.04},
      {"sat":"C","lat":5,"lo":0.72,"hi":0.98,"lo2":0.64,"hi2":1.10},
      {"sat":"C","lat":7.5,"lo":0.76,"hi":1.04,"lo2":0.67,"hi2":1.15},
      {"sat":"C","lat":10,"lo":0.78,"hi":1.06,"lo2":0.69,"hi2":1.18},
      {"sat":"C","lat":12.5,"lo":0.78,"hi":1.06,"lo2":0.69,"hi2":1.20},
      {"sat":"C","lat":15,"lo":0.78,"hi":1.06,"lo2":0.69,"hi2":1.20},
      {"sat":"C","lat":17.5,"lo":0.78,"hi":1.06,"lo2":0.68,"hi2":1.18},
      {"sat":"C","lat":20,"lo":0.68,"hi":0.90,"lo2":0.60,"hi2":1.02},
      {"sat":"C","lat":22.5,"lo":0.62,"hi":0.82,"lo2":0.56,"hi2":0.92},
      {"sat":"C","lat":25,"lo":0.60,"hi":0.76,"lo2":0.55,"hi2":0.86},
      {"sat":"C","lat":27.5,"lo":0.59,"hi":0.75,"lo2":0.54,"hi2":0.84},
      {"sat":"C","lat":30,"lo":0.62,"hi":0.80,"lo2":0.57,"hi2":0.88},
      {"sat":"C","lat":32.5,"lo":0.66,"hi":0.86,"lo2":0.60,"hi2":0.95},
      {"sat":"C","lat":35,"lo":0.74,"hi":0.96,"lo2":0.66,"hi2":1.08},
      {"sat":"C","lat":37.5,"lo":0.80,"hi":1.02,"lo2":0.72,"hi2":1.12},
      {"sat":"C","lat":40,"lo":0.79,"hi":1.00,"lo2":0.72,"hi2":1.10},
      {"sat":"C","lat":42.5,"lo":0.78,"hi":0.98,"lo2":0.70,"hi2":1.08},
      {"sat":"C","lat":45,"lo":0.75,"hi":0.95,"lo2":0.68,"hi2":1.05},
      {"sat":"C","lat":47.5,"lo":0.73,"hi":0.93,"lo2":0.66,"hi2":1.02},
      {"sat":"C","lat":50,"lo":0.69,"hi":0.88,"lo2":0.63,"hi2":0.96},
      {"sat":"C","lat":52.5,"lo":0.66,"hi":0.84,"lo2":0.61,"hi2":0.92},
      {"sat":"C","lat":55,"lo":0.65,"hi":0.83,"lo2":0.60,"hi2":0.90},
      {"sat":"C","lat":57.5,"lo":0.65,"hi":0.83,"lo2":0.60,"hi2":0.90},
      {"sat":"C","lat":60,"lo":0.67,"hi":0.86,"lo2":0.62,"hi2":0.92},
      {"sat":"C","lat":62.5,"lo":0.69,"hi":0.88,"lo2":0.63,"hi2":0.94},
      {"sat":"C","lat":65,"lo":0.70,"hi":0.88,"lo2":0.64,"hi2":0.94},
      {"sat":"C","lat":67.5,"lo":0.70,"hi":0.88,"lo2":0.64,"hi2":0.94},
      {"sat":"C","lat":69.5,"lo":0.72,"hi":0.88,"lo2":0.66,"hi2":0.92}
    ],
    "bot_out": [
      {"sat":"B","lat":-67,"v":2.02},{"sat":"B","lat":-68,"v":1.93},{"sat":"B","lat":-40,"v":1.8},{"sat":"B","lat":-27,"v":2.0},
      {"sat":"B","lat":-22,"v":2.05},{"sat":"B","lat":-35,"v":1.95},{"sat":"B","lat":37,"v":1.9},{"sat":"B","lat":38,"v":1.78},
      {"sat":"B","lat":45,"v":1.67},{"sat":"B","lat":-10,"v":1.7},{"sat":"B","lat":10,"v":1.62},{"sat":"B","lat":60,"v":1.58},
      {"sat":"B","lat":65,"v":1.52},{"sat":"B","lat":-83,"v":1.82},
      {"sat":"C","lat":-67,"v":1.18},{"sat":"C","lat":-66,"v":1.12},{"sat":"C","lat":-25,"v":1.6},{"sat":"C","lat":-28,"v":1.55},
      {"sat":"C","lat":-32,"v":1.5},{"sat":"C","lat":15,"v":1.37},{"sat":"C","lat":18,"v":1.3},{"sat":"C","lat":-20,"v":1.45},
      {"sat":"C","lat":40,"v":1.2},{"sat":"C","lat":-58,"v":1.07}
    ],
    "bot_mean": [
      {"sat":"B","lat":-87.5,"rms":1.583},{"sat":"B","lat":-82.5,"rms":1.553},{"sat":"B","lat":-77.5,"rms":1.522},
      {"sat":"B","lat":-72.5,"rms":1.501},{"sat":"B","lat":-67.5,"rms":1.522},{"sat":"B","lat":-62.5,"rms":1.487},
      {"sat":"B","lat":-57.5,"rms":1.438},{"sat":"B","lat":-52.5,"rms":1.429},{"sat":"B","lat":-47.5,"rms":1.435},
      {"sat":"B","lat":-42.5,"rms":1.362},{"sat":"B","lat":-37.5,"rms":1.351},{"sat":"B","lat":-32.5,"rms":1.414},
      {"sat":"B","lat":-27.5,"rms":1.51},{"sat":"B","lat":-22.5,"rms":1.472},{"sat":"B","lat":-17.5,"rms":1.278},
      {"sat":"B","lat":-12.5,"rms":1.249},{"sat":"B","lat":-7.5,"rms":1.183},{"sat":"B","lat":-2.5,"rms":1.087},
      {"sat":"B","lat":2.5,"rms":1.061},{"sat":"B","lat":7.5,"rms":1.13},{"sat":"B","lat":12.5,"rms":1.072},
      {"sat":"B","lat":17.5,"rms":1.046},{"sat":"B","lat":22.5,"rms":0.803},{"sat":"B","lat":27.5,"rms":0.716},
      {"sat":"B","lat":32.5,"rms":0.826},{"sat":"B","lat":37.5,"rms":1.162},{"sat":"B","lat":42.5,"rms":1.058},
      {"sat":"B","lat":47.5,"rms":0.994},{"sat":"B","lat":52.5,"rms":0.861},{"sat":"B","lat":57.5,"rms":0.835},
      {"sat":"B","lat":62.5,"rms":0.988},{"sat":"B","lat":67.5,"rms":0.994},
      {"sat":"C","lat":-87.5,"rms":0.783},{"sat":"C","lat":-82.5,"rms":0.774},{"sat":"C","lat":-77.5,"rms":0.762},
      {"sat":"C","lat":-72.5,"rms":0.742},{"sat":"C","lat":-67.5,"rms":0.768},{"sat":"C","lat":-62.5,"rms":0.748},
      {"sat":"C","lat":-57.5,"rms":0.739},{"sat":"C","lat":-52.5,"rms":0.762},{"sat":"C","lat":-47.5,"rms":0.791},
      {"sat":"C","lat":-42.5,"rms":0.809},{"sat":"C","lat":-37.5,"rms":0.826},{"sat":"C","lat":-32.5,"rms":0.959},
      {"sat":"C","lat":-27.5,"rms":1.101},{"sat":"C","lat":-22.5,"rms":1.052},{"sat":"C","lat":-17.5,"rms":0.936},
      {"sat":"C","lat":-12.5,"rms":1.006},{"sat":"C","lat":-7.5,"rms":0.875},{"sat":"C","lat":-2.5,"rms":0.835},
      {"sat":"C","lat":2.5,"rms":0.803},{"sat":"C","lat":7.5,"rms":0.913},{"sat":"C","lat":12.5,"rms":0.93},
      {"sat":"C","lat":17.5,"rms":0.957},{"sat":"C","lat":22.5,"rms":0.725},{"sat":"C","lat":27.5,"rms":0.678},
      {"sat":"C","lat":32.5,"rms":0.78},{"sat":"C","lat":37.5,"rms":0.913},{"sat":"C","lat":42.5,"rms":0.887},
      {"sat":"C","lat":47.5,"rms":0.849},{"sat":"C","lat":52.5,"rms":0.762},{"sat":"C","lat":57.5,"rms":0.739},
      {"sat":"C","lat":62.5,"rms":0.791},{"sat":"C","lat":67.5,"rms":0.8}
    ],
    "bot_text": [
      {"sat":"K","lat":-39.7,"v":2.67,"label":"Mean RMS:"},
      {"sat":"B","lat":1.4,"v":2.66,"label":"1.196e-03"},
      {"sat":"C","lat":1.4,"v":2.21,"label":"8.396e-04"}
    ],
    "bot_exp": [
      {"lat":-89.8,"v":3.10,"label":"x 10","size":"big"},
      {"lat":-85.1,"v":3.245,"label":"-3","size":"small"}
    ]
  },
  "vconcat": [
    {
      "width": 1160,
      "height": 346,
      "resolve": {"axis": {"x": "independent", "y": "independent"}, "scale": {"color": "independent"}},
      "layer": [
        {
          "data": {"name": "top_cloud"},
          "transform": [{"filter": "datum.sat === 'B'"}],
          "mark": {"type": "area", "color": "#b8f8b8", "opacity": 0.4, "clip": true},
          "encoding": {
            "x": {"field": "lat", "type": "quantitative", "scale": {"domain": [-90, 88.5], "nice": false},
              "axis": {"orient": "bottom", "values": [-80,-60,-40,-20,0,20,40,60,80], "title": "Latitude (°)", "grid": true, "titleX": 585, "titleY": 47, "titleBaseline": "middle"}},
            "y": {"field": "lo2", "type": "quantitative", "scale": {"domain": [0, 30], "nice": false},
              "axis": {"orient": "left", "values": [0,5,10,15,20,25,30], "title": "NO2 SCD (10¹⁵molec./cm²)", "grid": true, "titleX": -48, "titleBaseline": "middle"}},
            "y2": {"field": "hi2"}
          }
        },
        {
          "data": {"name": "top_cloud"},
          "transform": [{"filter": "datum.sat === 'B'"}],
          "mark": {"type": "area", "color": "#b8f8b8", "clip": true},
          "encoding": {
            "x": {"field": "lat", "type": "quantitative", "axis": {"orient": "top", "values": [-80,-60,-40,-20,0,20,40,60,80], "labels": false, "title": null, "grid": false}},
            "y": {"field": "lo", "type": "quantitative", "axis": null},
            "y2": {"field": "hi"}
          }
        },
        {
          "data": {"name": "top_cloud"},
          "transform": [{"filter": "datum.sat === 'C'"}],
          "mark": {"type": "area", "color": "#b8b8f8", "opacity": 0.4, "clip": true},
          "encoding": {
            "x": {"field": "lat", "type": "quantitative", "axis": null},
            "y": {"field": "lo2", "type": "quantitative", "axis": null},
            "y2": {"field": "hi2"}
          }
        },
        {
          "data": {"name": "top_cloud"},
          "transform": [{"filter": "datum.sat === 'C'"}],
          "mark": {"type": "area", "color": "#b8b8f8", "clip": true},
          "encoding": {
            "x": {"field": "lat", "type": "quantitative", "axis": null},
            "y": {"field": "lo", "type": "quantitative", "axis": null},
            "y2": {"field": "hi"}
          }
        },
        {
          "data": {"name": "top_out"},
          "mark": {"type": "point", "shape": "cross", "filled": true, "size": 16, "opacity": 1, "clip": true},
          "encoding": {
            "x": {"field": "lat", "type": "quantitative", "axis": null},
            "y": {"field": "v", "type": "quantitative", "axis": null},
            "color": {"field": "sat", "type": "nominal", "scale": {"domain": ["B","C"], "range": ["#b8f8b8","#b8b8f8"]}, "legend": null}
          }
        },
        {
          "data": {"name": "top_mean"},
          "transform": [{"filter": "datum.sat === 'B'"}],
          "mark": {"type": "errorbar", "color": "#00ff00", "thickness": 3, "ticks": {"size": 24, "thickness": 3, "color": "#00ff00"}},
          "encoding": {
            "x": {"field": "lat", "type": "quantitative", "axis": null},
            "y": {"field": "lo", "type": "quantitative", "axis": null},
            "y2": {"field": "hi"}
          }
        },
        {
          "data": {"name": "top_mean"},
          "transform": [{"filter": "datum.sat === 'B'"}],
          "mark": {"type": "line", "color": "#00ff00", "strokeWidth": 3},
          "encoding": {
            "x": {"field": "lat", "type": "quantitative", "axis": null},
            "y": {"field": "mean", "type": "quantitative", "axis": null}
          }
        },
        {
          "data": {"name": "top_mean"},
          "transform": [{"filter": "datum.sat === 'C'"}],
          "mark": {"type": "errorbar", "color": "#0000ff", "thickness": 3, "ticks": {"size": 24, "thickness": 3, "color": "#0000ff"}},
          "encoding": {
            "x": {"field": "lat", "type": "quantitative", "axis": null},
            "y": {"field": "lo", "type": "quantitative", "axis": null},
            "y2": {"field": "hi"}
          }
        },
        {
          "data": {"name": "top_mean"},
          "transform": [{"filter": "datum.sat === 'C'"}],
          "mark": {"type": "line", "color": "#0000ff", "strokeWidth": 3},
          "encoding": {
            "x": {"field": "lat", "type": "quantitative", "axis": null},
            "y": {"field": "mean", "type": "quantitative", "axis": null}
          }
        },
        {
          "data": {"name": "top_text"},
          "mark": {"type": "text", "align": "left", "baseline": "middle", "font": "Liberation Sans", "fontWeight": "bold", "fontSize": 29},
          "encoding": {
            "x": {"field": "lat", "type": "quantitative", "axis": null},
            "y": {"field": "v", "type": "quantitative", "axis": null},
            "text": {"field": "label"},
            "color": {"field": "sat", "type": "nominal", "scale": {"domain": ["B","C"], "range": ["#00ff00","#0000ff"]}, "legend": null}
          }
        }
      ]
    },
    {
      "width": 1160,
      "height": 345,
      "resolve": {"axis": {"x": "independent", "y": "independent"}, "scale": {"color": "independent"}},
      "layer": [
        {
          "data": {"name": "bot_cloud"},
          "transform": [{"filter": "datum.sat === 'B'"}],
          "mark": {"type": "area", "color": "#b8f8b8", "opacity": 0.4, "clip": true},
          "encoding": {
            "x": {"field": "lat", "type": "quantitative", "scale": {"domain": [-90, 88.5], "nice": false},
              "axis": {"orient": "bottom", "values": [-80,-60,-40,-20,0,20,40,60,80], "title": "Latitude (°)", "grid": true, "titleX": 585, "titleY": 46, "titleBaseline": "middle"}},
            "y": {"field": "lo2", "type": "quantitative", "scale": {"domain": [0, 3], "nice": false},
              "axis": {"orient": "left", "values": [0,0.5,1,1.5,2,2.5,3], "format": "~g", "title": "RMS", "grid": true, "titleX": -53, "titleBaseline": "middle"}},
            "y2": {"field": "hi2"}
          }
        },
        {
          "data": {"name": "bot_cloud"},
          "transform": [{"filter": "datum.sat === 'B'"}],
          "mark": {"type": "area", "color": "#b8f8b8", "clip": true},
          "encoding": {
            "x": {"field": "lat", "type": "quantitative", "axis": {"orient": "top", "values": [-80,-60,-40,-20,0,20,40,60,80], "labels": false, "title": null, "grid": false}},
            "y": {"field": "lo", "type": "quantitative", "axis": null},
            "y2": {"field": "hi"}
          }
        },
        {
          "data": {"name": "bot_cloud"},
          "transform": [{"filter": "datum.sat === 'C'"}],
          "mark": {"type": "area", "color": "#b8b8f8", "opacity": 0.4, "clip": true},
          "encoding": {
            "x": {"field": "lat", "type": "quantitative", "axis": null},
            "y": {"field": "lo2", "type": "quantitative", "axis": null},
            "y2": {"field": "hi2"}
          }
        },
        {
          "data": {"name": "bot_cloud"},
          "transform": [{"filter": "datum.sat === 'C'"}],
          "mark": {"type": "area", "color": "#b8b8f8", "clip": true},
          "encoding": {
            "x": {"field": "lat", "type": "quantitative", "axis": null},
            "y": {"field": "lo", "type": "quantitative", "axis": null},
            "y2": {"field": "hi"}
          }
        },
        {
          "data": {"name": "bot_out"},
          "mark": {"type": "point", "shape": "cross", "filled": true, "size": 16, "opacity": 1, "clip": true},
          "encoding": {
            "x": {"field": "lat", "type": "quantitative", "axis": null},
            "y": {"field": "v", "type": "quantitative", "axis": null},
            "color": {"field": "sat", "type": "nominal", "scale": {"domain": ["B","C"], "range": ["#b8f8b8","#b8b8f8"]}, "legend": null}
          }
        },
        {
          "data": {"name": "bot_mean"},
          "transform": [{"filter": "datum.sat === 'B'"}],
          "mark": {"type": "line", "color": "#00ff00", "strokeWidth": 3},
          "encoding": {
            "x": {"field": "lat", "type": "quantitative", "axis": null},
            "y": {"field": "rms", "type": "quantitative", "axis": null}
          }
        },
        {
          "data": {"name": "bot_mean"},
          "transform": [{"filter": "datum.sat === 'C'"}],
          "mark": {"type": "line", "color": "#0000ff", "strokeWidth": 3},
          "encoding": {
            "x": {"field": "lat", "type": "quantitative", "axis": null},
            "y": {"field": "rms", "type": "quantitative", "axis": null}
          }
        },
        {
          "data": {"name": "bot_text"},
          "mark": {"type": "text", "align": "left", "baseline": "middle", "font": "Liberation Sans", "fontWeight": "bold", "fontSize": 30},
          "encoding": {
            "x": {"field": "lat", "type": "quantitative", "axis": null},
            "y": {"field": "v", "type": "quantitative", "axis": null},
            "text": {"field": "label"},
            "color": {"field": "sat", "type": "nominal", "scale": {"domain": ["K","B","C"], "range": ["#000000","#00ff00","#0000ff"]}, "legend": null}
          }
        },
        {
          "data": {"name": "bot_exp"},
          "mark": {"type": "text", "align": "left", "baseline": "middle", "font": "Liberation Sans", "color": "black"},
          "encoding": {
            "x": {"field": "lat", "type": "quantitative", "axis": null},
            "y": {"field": "v", "type": "quantitative", "axis": null},
            "text": {"field": "label"},
            "size": {"field": "size", "type": "nominal", "scale": {"domain": ["big","small"], "range": [17, 13]}, "legend": null}
          }
        }
      ]
    }
  ],
  "config": {
    "font": "Liberation Sans",
    "view": {"stroke": null},
    "axis": {
      "domainColor": "black", "domainWidth": 3,
      "tickColor": "black", "tickWidth": 3, "tickSize": -10,
      "labelFont": "Liberation Sans", "labelFontSize": 18, "labelColor": "black",
      "labelFlush": false, "labelOverlap": false,
      "titleFont": "DejaVu Sans", "titleFontSize": 23, "titleFontWeight": "bold", "titleColor": "black",
      "gridColor": "#333333", "gridDash": [1, 3], "gridWidth": 1, "gridOpacity": 1
    },
    "axisX": {"labelPadding": 25},
    "axisY": {"labelPadding": 15, "titleFontSize": 24}
  }
}
